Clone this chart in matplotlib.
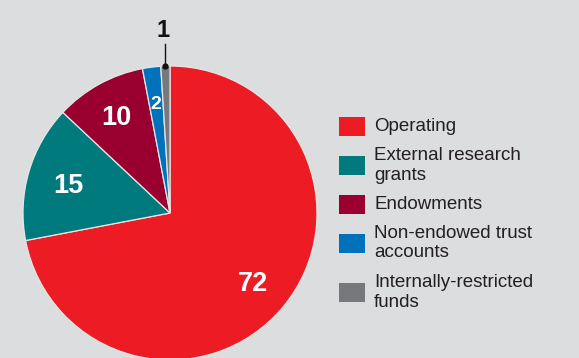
import matplotlib.pyplot as plt
import numpy as np
from matplotlib.patches import Rectangle

# Fund shares (%), drawn clockwise from 12 o'clock
categories = ['Operating', 'External research\ngrants', 'Endowments',
              'Non-endowed trust\naccounts', 'Internally-restricted\nfunds']
values = [72, 15, 10, 2, 1]
colors = ['#ed1c24', '#007a7c', '#990030', '#0072bc', '#77787b']

bg = '#dcdddf'
W, H = 579, 358

fig = plt.figure(figsize=(W / 100, H / 100), dpi=100, facecolor=bg)

# pie: centre at (170, 213) px from top-left, radius 147 px
cx, cy, r = 170, 213, 147
ax = fig.add_axes([(cx - r) / W, (H - cy - r) / H, 2 * r / W, 2 * r / H])
ax.set_facecolor(bg)

wedges, _ = ax.pie(values, colors=colors, startangle=90, counterclock=False,
                   radius=1, wedgeprops=dict(edgecolor='#e6e6e6', linewidth=0.9))

# pie() resets the limits, so fix them afterwards
ax.set_xlim(-1, 1)
ax.set_ylim(-1, 1)
ax.set_aspect('equal')
ax.axis('off')

for w in wedges:
    w.set_clip_on(False)

num_font = 'Liberation Sans'
label_pos = {0: (0.73, 19.5), 1: (0.72, 19.5), 2: (0.76, 19.5), 3: (0.76, 14)}
for i, w in enumerate(wedges):
    mid = np.deg2rad((w.theta1 + w.theta2) / 2)
    if i in label_pos:
        rr, fs = label_pos[i]
        # put the baseline half a cap height below the anchor point
        half_cap = 0.716 * fs * 100 / 72 / 2 / r
        ax.text(rr * np.cos(mid), rr * np.sin(mid) - half_cap, str(values[i]),
                ha='center', va='baseline', color='white', fontsize=fs,
                fontweight='bold', family=num_font)
    else:
        # smallest slice gets a leader line and an outside label
        x0, y0 = np.cos(mid), np.sin(mid)
        ax.plot([x0, x0], [y0, 1.15], color='#111111', lw=1.0, clip_on=False)
        ax.plot([x0], [y0], 'o', color='#111111', ms=3.5, clip_on=False)
        ax.text(x0 - 0.015, 1.195, str(values[i]), ha='center', va='baseline',
                color='#111111', fontsize=17, fontweight='bold',
                family=num_font, clip_on=False)

# legend, laid out in pixel positions
leg_y = [126.5, 165.5, 204.5, 243, 292.5]
for lab, col, y in zip(categories, colors, leg_y):
    fig.patches.append(Rectangle((339 / W, (H - y - 9.5) / H), 26 / W, 19 / H,
                                 transform=fig.transFigure, facecolor=col,
                                 edgecolor='none'))
    fig.text(374 / W, (H - y) / H, lab, ha='left', va='center',
             fontsize=13.5, color='#231f20', family='Liberation Sans',
             linespacing=1.2)

fig.savefig('out.png', dpi=100, facecolor=bg)
